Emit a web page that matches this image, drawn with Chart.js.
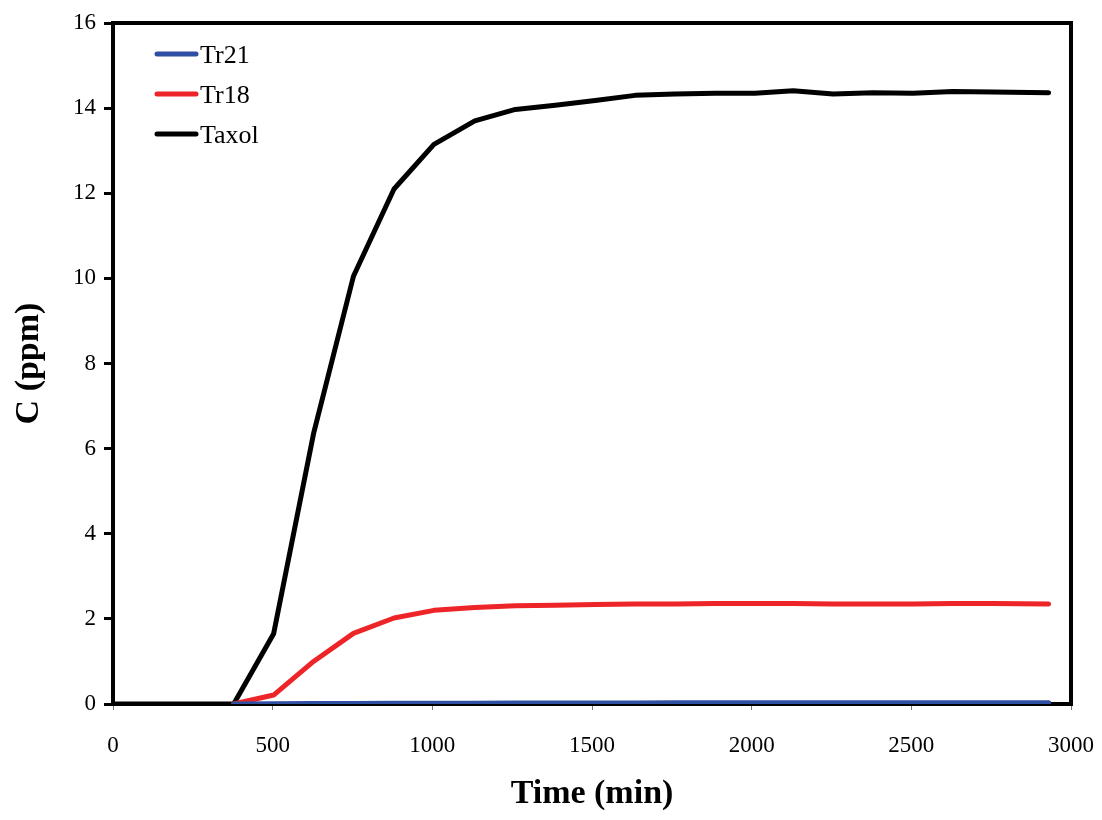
<!DOCTYPE html>
<html>
<head>
<meta charset="utf-8">
<title>C (ppm) vs Time</title>
<script src="https://cdn.jsdelivr.net/npm/chart.js@4"></script>
<style>
    html, body { margin: 0; padding: 0; background: #fff; }
    #wrap { width: 1102px; height: 820px; }
</style>
</head>
<body>
<div id="wrap"><canvas id="chart" width="1102" height="820"></canvas></div>
<script>
    // sampling times (min)
    const times = [0, 125, 250, 378, 503, 628, 753, 880, 1005, 1133, 1260, 1385, 1510,
                   1635, 1760, 1885, 2010, 2130, 2255, 2380, 2505, 2630, 2755, 2930];

    const tr21 = [null, null, null, 0, 0.005, 0.01, 0.012, 0.015, 0.018, 0.02, 0.022, 0.024,
                  0.025, 0.026, 0.027, 0.028, 0.028, 0.029, 0.03, 0.03, 0.03, 0.03, 0.03, 0.03];
    const tr18 = [null, null, null, 0, 0.21, 1.0, 1.66, 2.02, 2.2, 2.27, 2.31, 2.32,
                  2.34, 2.35, 2.35, 2.36, 2.36, 2.36, 2.35, 2.35, 2.35, 2.36, 2.36, 2.35];
    const taxol = [0, 0, 0, 0, 1.65, 6.35, 10.05, 12.1, 13.15, 13.7, 13.97, 14.07,
                   14.18, 14.3, 14.33, 14.35, 14.35, 14.41, 14.33, 14.36, 14.35, 14.39, 14.38, 14.36];

    const xTicks = [0, 500, 1000, 1500, 2000, 2500, 3000];
    const yTicks = [0, 2, 4, 6, 8, 10, 12, 14, 16];

    const toPoints = vals => times.map((t, i) => ({ x: t, y: vals[i] }));

    // black frame round the plot area
    const frame = {
        id: 'frame',
        beforeDatasetsDraw(chart) {
            const { ctx, chartArea: a } = chart;
            ctx.save();
            ctx.strokeStyle = '#000';
            ctx.lineWidth = 4;
            ctx.strokeRect(a.left, a.top, a.right - a.left, a.bottom - a.top);
            ctx.restore();
        }
    };

    // legend drawn inside the plot, top left
    const innerLegend = {
        id: 'innerLegend',
        afterDraw(chart) {
            const { ctx } = chart;
            ctx.save();
            ctx.font = '26px "Liberation Serif", serif';
            ctx.textBaseline = 'middle';
            ctx.textAlign = 'left';
            chart.data.datasets.forEach((ds, i) => {
                const y = 54 + i * 40;
                ctx.strokeStyle = ds.borderColor;
                ctx.lineWidth = 5;
                ctx.lineCap = 'round';
                ctx.beginPath();
                ctx.moveTo(157, y);
                ctx.lineTo(196, y);
                ctx.stroke();
                ctx.fillStyle = '#000';
                ctx.fillText(ds.label, 200, y + 2);
            });
            ctx.restore();
        }
    };

    const ctx = document.getElementById('chart').getContext('2d');
    const chart = new Chart(ctx, {
        type: 'line',
        data: {
            datasets: [
                { label: 'Tr21', data: toPoints(tr21), borderColor: '#2f4fa2', borderWidth: 5 },
                { label: 'Tr18', data: toPoints(tr18), borderColor: '#ee2528', borderWidth: 5 },
                { label: 'Taxol', data: toPoints(taxol), borderColor: '#000000', borderWidth: 5 }
            ]
        },
        options: {
            responsive: false,
            animation: false,
            elements: {
                point: { radius: 0, hoverRadius: 0 },
                line: { tension: 0, borderJoinStyle: 'round', borderCapStyle: 'round', fill: false }
            },
            layout: { padding: { top: 23, right: 31, left: 0, bottom: 0 } },
            scales: {
                x: {
                    type: 'linear',
                    min: 0,
                    max: 3000,
                    afterFit: s => { s.height = 116; s.paddingLeft = 0; s.paddingRight = 0; },
                    afterBuildTicks: s => { s.ticks = xTicks.map(v => ({ value: v })); },
                    border: { display: false },
                    grid: { drawOnChartArea: false, tickLength: 6, tickWidth: 1, tickColor: '#777' },
                    ticks: {
                        padding: 22,
                        color: '#000',
                        maxRotation: 0,
                        callback: v => String(v),
                        font: { family: '"Liberation Serif", serif', size: 23 }
                    },
                    title: {
                        display: true,
                        text: 'Time (min)',
                        color: '#000',
                        padding: { top: 0, bottom: 5 },
                        font: { family: '"Liberation Serif", serif', size: 34, weight: 'bold' }
                    }
                },
                y: {
                    min: 0,
                    max: 16,
                    afterFit: s => { s.width = 113; s.paddingTop = 0; s.paddingBottom = 0; },
                    afterBuildTicks: s => { s.ticks = yTicks.map(v => ({ value: v })); },
                    border: { display: false },
                    grid: { drawOnChartArea: false, tickLength: 9, tickWidth: 3, tickColor: '#000' },
                    ticks: {
                        padding: 8,
                        color: '#000',
                        callback: v => String(v),
                        font: { family: '"Liberation Serif", serif', size: 23 }
                    },
                    title: {
                        display: true,
                        text: 'C (ppm)',
                        color: '#000',
                        padding: { top: 9, bottom: 0 },
                        font: { family: '"Liberation Serif", serif', size: 34, weight: 'bold' }
                    }
                }
            },
            plugins: {
                legend: { display: false },
                tooltip: { enabled: false }
            }
        },
        plugins: [frame, innerLegend]
    });
</script>
</body>
</html>
